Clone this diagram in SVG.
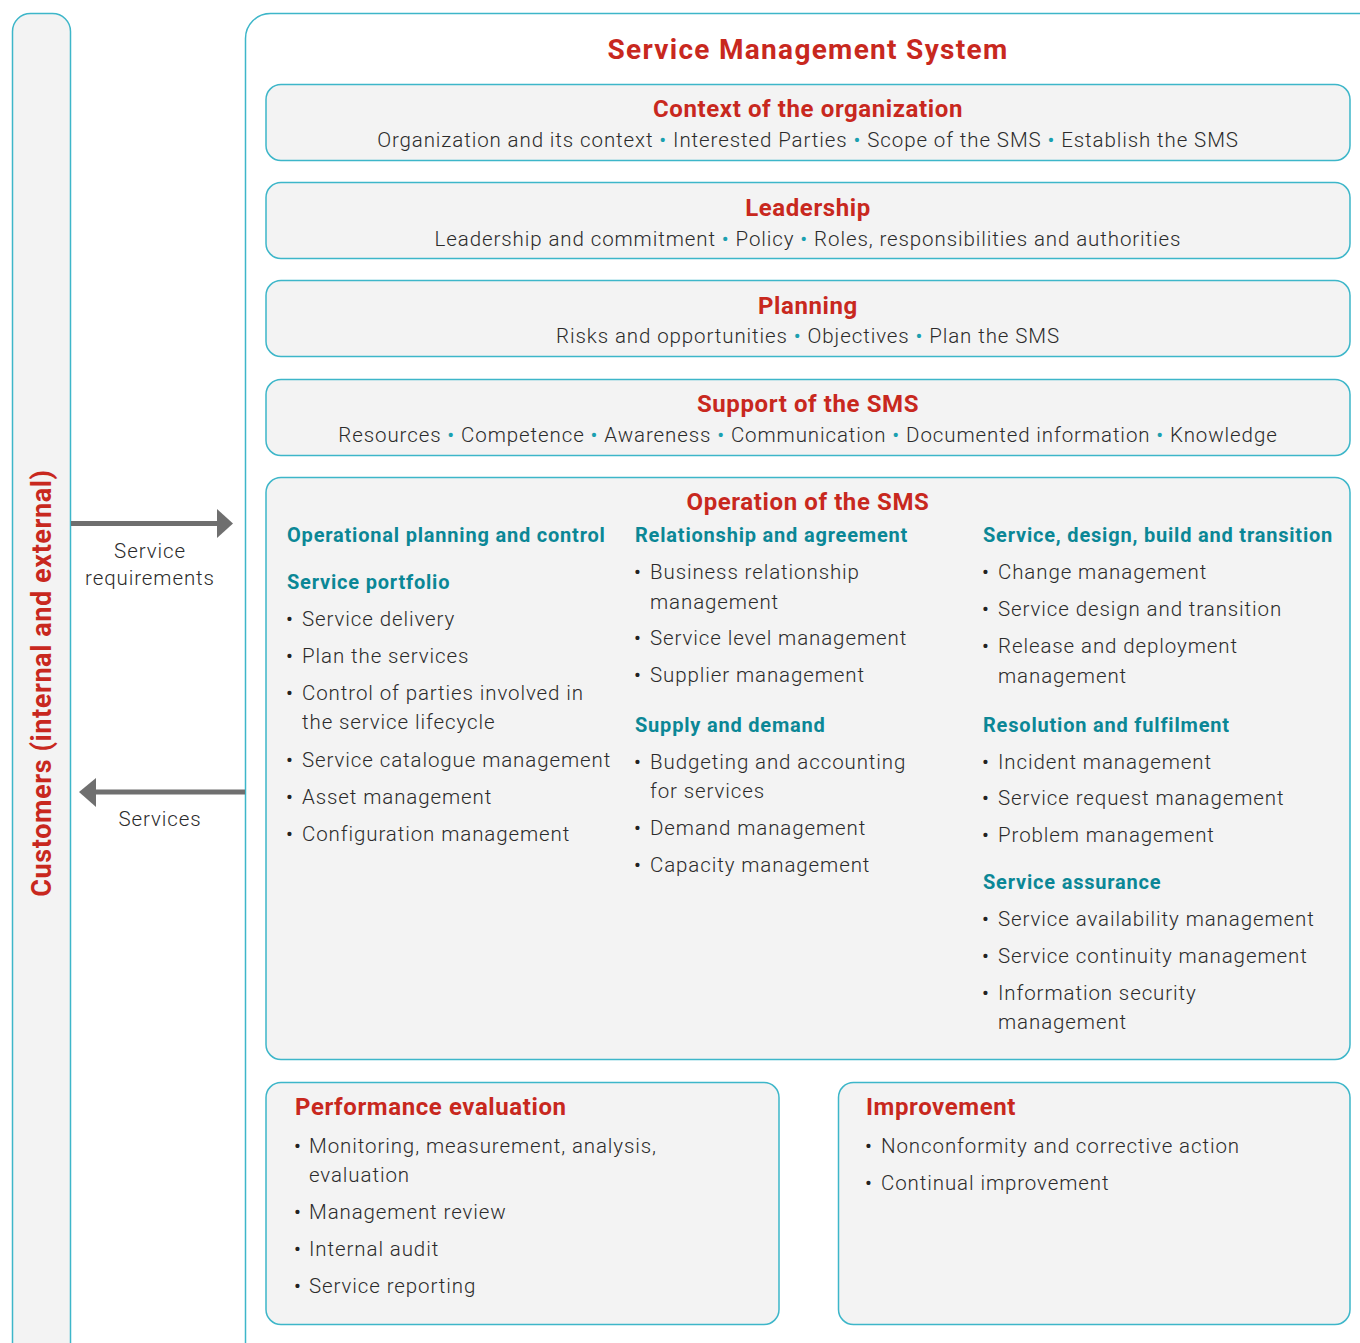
<svg xmlns="http://www.w3.org/2000/svg" width="1360" height="1343" viewBox="0 0 1360 1343">
<style>
.box{fill:#f3f3f3;stroke:#3db6c9;stroke-width:1.5}
.red{font-family:Roboto,"Liberation Sans",sans-serif;font-weight:700;fill:#c8281e;letter-spacing:0.6px}
.big{letter-spacing:1.3px}
.teal{font-family:Roboto,"Liberation Sans",sans-serif;font-weight:700;fill:#0b8796;font-size:20px;letter-spacing:0.8px}
.txt{font-family:Roboto,"Liberation Sans",sans-serif;font-weight:300;fill:#2b2b2b;font-size:20.5px;letter-spacing:0.9px}
.b{font-weight:400;fill:#222}
.dot{fill:#1ba0b0;font-weight:400}
.arrow{stroke:#6f6f6f;stroke-width:5;fill:none}
.head{fill:#6f6f6f}
</style>
<rect width="1360" height="1343" fill="#fff"/>
<g id="customers">
<rect class="box" x="12.5" y="13.5" width="58" height="1360" rx="18"/>
<text class="red" font-size="27" text-anchor="middle" transform="translate(51,683) rotate(-90)">Customers (internal and external)</text>
</g>
<g id="sms">
<rect x="245.5" y="13.5" width="1150" height="1360" rx="25" fill="#fff" stroke="#3db6c9" stroke-width="1.5"/>
<text class="red big" font-size="28" x="808" y="59" text-anchor="middle">Service Management System</text>
</g>
<g id="context">
<rect class="box" x="266" y="84.5" width="1084" height="76" rx="15"/>
<text class="red" font-size="24" x="808" y="117" text-anchor="middle">Context of the organization</text>
<text class="txt" x="808" y="147" text-anchor="middle">Organization and its context <tspan class="dot">•</tspan> Interested Parties <tspan class="dot">•</tspan> Scope of the SMS <tspan class="dot">•</tspan> Establish the SMS</text>
</g>
<g id="leadership">
<rect class="box" x="266" y="182.5" width="1084" height="76" rx="15"/>
<text class="red" font-size="24" x="808" y="216" text-anchor="middle">Leadership</text>
<text class="txt" x="808" y="246" text-anchor="middle">Leadership and commitment <tspan class="dot">•</tspan> Policy <tspan class="dot">•</tspan> Roles, responsibilities and authorities</text>
</g>
<g id="planning">
<rect class="box" x="266" y="280.5" width="1084" height="76" rx="15"/>
<text class="red" font-size="24" x="808" y="314" text-anchor="middle">Planning</text>
<text class="txt" x="808" y="343" text-anchor="middle">Risks and opportunities <tspan class="dot">•</tspan> Objectives <tspan class="dot">•</tspan> Plan the SMS</text>
</g>
<g id="support">
<rect class="box" x="266" y="379.5" width="1084" height="76" rx="15"/>
<text class="red" font-size="24" x="808" y="412" text-anchor="middle">Support of the SMS</text>
<text class="txt" x="808" y="442" text-anchor="middle">Resources <tspan class="dot">•</tspan> Competence <tspan class="dot">•</tspan> Awareness <tspan class="dot">•</tspan> Communication <tspan class="dot">•</tspan> Documented information <tspan class="dot">•</tspan> Knowledge</text>
</g>
<g id="operation">
<rect class="box" x="266" y="477.5" width="1084" height="582" rx="15"/>
<text class="red" font-size="24" x="808" y="510" text-anchor="middle">Operation of the SMS</text>
<text class="teal" x="287" y="542">Operational planning and control</text>
<text class="teal" x="287" y="589">Service portfolio</text>
<g class="txt">
<text class="b" x="286" y="626">•</text><text x="302" y="626">Service delivery</text>
<text class="b" x="286" y="663">•</text><text x="302" y="663">Plan the services</text>
<text class="b" x="286" y="700">•</text><text x="302" y="700">Control of parties involved in</text><text x="302" y="729">the service lifecycle</text>
<text class="b" x="286" y="767">•</text><text x="302" y="767">Service catalogue management</text>
<text class="b" x="286" y="804">•</text><text x="302" y="804">Asset management</text>
<text class="b" x="286" y="841">•</text><text x="302" y="841">Configuration management</text>
</g>
<text class="teal" x="635" y="542">Relationship and agreement</text>
<text class="teal" x="635" y="732">Supply and demand</text>
<g class="txt">
<text class="b" x="634" y="579">•</text><text x="650" y="579">Business relationship</text><text x="650" y="609">management</text>
<text class="b" x="634" y="645">•</text><text x="650" y="645">Service level management</text>
<text class="b" x="634" y="682">•</text><text x="650" y="682">Supplier management</text>
<text class="b" x="634" y="769">•</text><text x="650" y="769">Budgeting and accounting</text><text x="650" y="798">for services</text>
<text class="b" x="634" y="835">•</text><text x="650" y="835">Demand management</text>
<text class="b" x="634" y="872">•</text><text x="650" y="872">Capacity management</text>
</g>
<text class="teal" x="983" y="542">Service, design, build and transition</text>
<text class="teal" x="983" y="732">Resolution and fulfilment</text>
<text class="teal" x="983" y="889">Service assurance</text>
<g class="txt">
<text class="b" x="982" y="579">•</text><text x="998" y="579">Change management</text>
<text class="b" x="982" y="616">•</text><text x="998" y="616">Service design and transition</text>
<text class="b" x="982" y="653">•</text><text x="998" y="653">Release and deployment</text><text x="998" y="683">management</text>
<text class="b" x="982" y="769">•</text><text x="998" y="769">Incident management</text>
<text class="b" x="982" y="805">•</text><text x="998" y="805">Service request management</text>
<text class="b" x="982" y="842">•</text><text x="998" y="842">Problem management</text>
<text class="b" x="982" y="926">•</text><text x="998" y="926">Service availability management</text>
<text class="b" x="982" y="963">•</text><text x="998" y="963">Service continuity management</text>
<text class="b" x="982" y="1000">•</text><text x="998" y="1000">Information security</text><text x="998" y="1029">management</text>
</g>
</g>
<g id="performance">
<rect class="box" x="266" y="1082.5" width="513" height="242" rx="15"/>
<text class="red" font-size="24" x="295" y="1115">Performance evaluation</text>
<g class="txt">
<text class="b" x="294" y="1153">•</text><text x="309" y="1153">Monitoring, measurement, analysis,</text><text x="309" y="1182">evaluation</text>
<text class="b" x="294" y="1219">•</text><text x="309" y="1219">Management review</text>
<text class="b" x="294" y="1256">•</text><text x="309" y="1256">Internal audit</text>
<text class="b" x="294" y="1293">•</text><text x="309" y="1293">Service reporting</text>
</g>
</g>
<g id="improvement">
<rect class="box" x="838.5" y="1082.5" width="511.5" height="242" rx="15"/>
<text class="red" font-size="24" x="866" y="1115">Improvement</text>
<g class="txt">
<text class="b" x="865" y="1153">•</text><text x="881" y="1153">Nonconformity and corrective action</text>
<text class="b" x="865" y="1190">•</text><text x="881" y="1190">Continual improvement</text>
</g>
</g>
<g id="connectors">
<line class="arrow" x1="71" y1="523.5" x2="219" y2="523.5"/>
<polygon class="head" points="217,509 233,523.5 217,538"/>
<text class="txt" x="150" y="558" text-anchor="middle">Service</text>
<text class="txt" x="150" y="585" text-anchor="middle">requirements</text>
<line class="arrow" x1="245" y1="792" x2="94" y2="792"/>
<polygon class="head" points="96,778 79,792 96,807"/>
<text class="txt" x="160" y="826" text-anchor="middle">Services</text>
</g>
</svg>
